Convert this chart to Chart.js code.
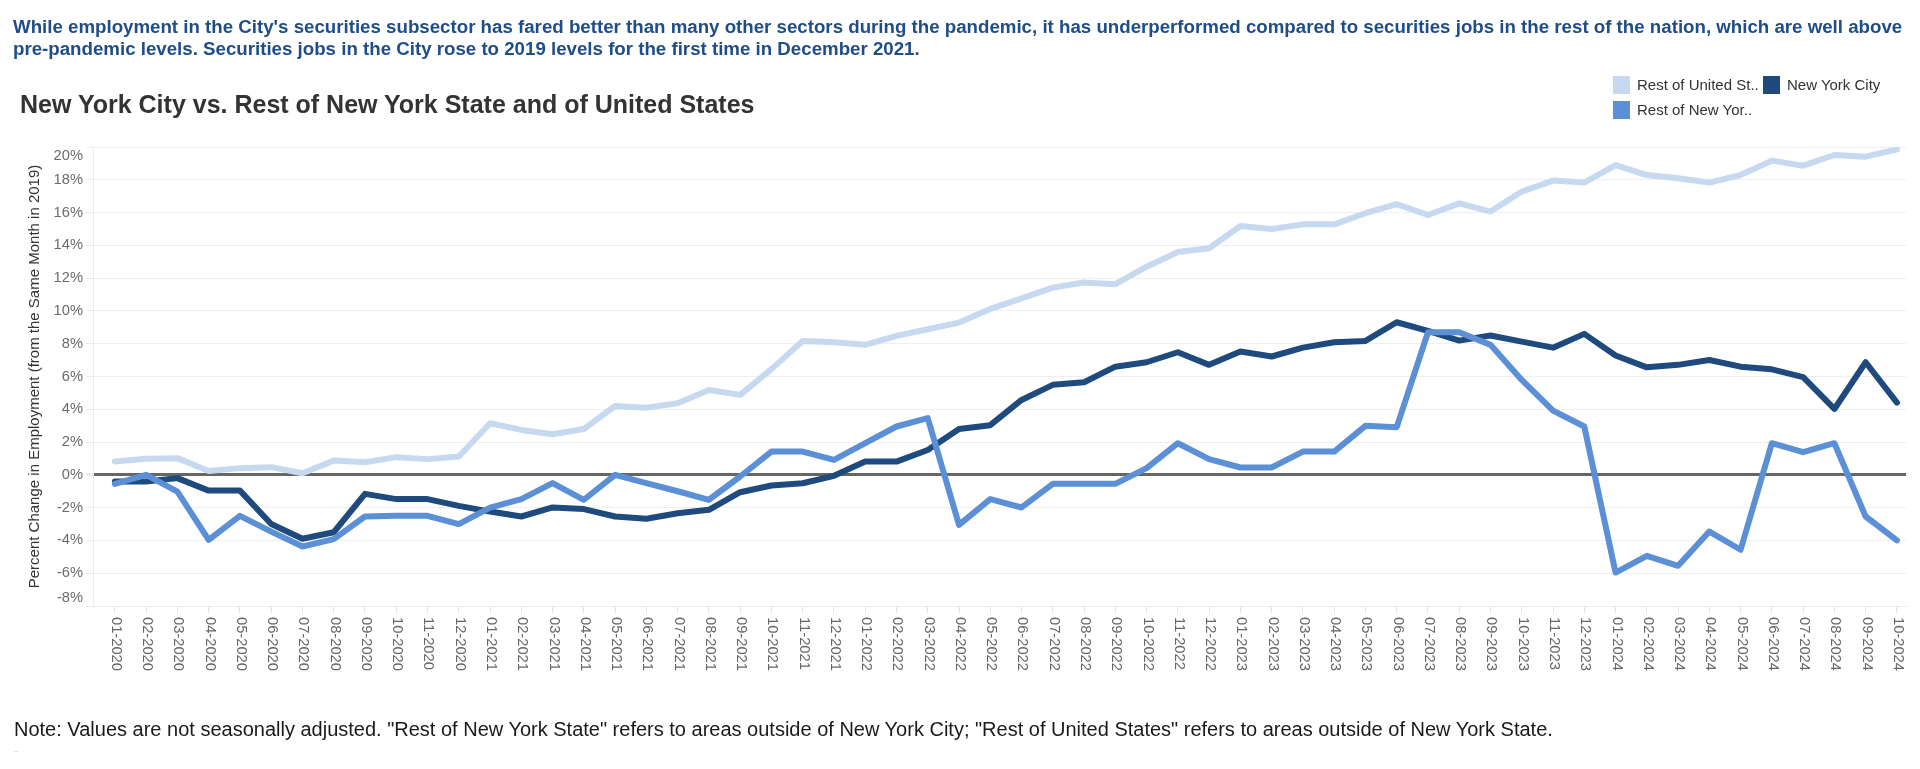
<!DOCTYPE html>
<html>
<head>
<meta charset="utf-8">
<script src="https://cdn.jsdelivr.net/npm/chart.js@4.4.1/dist/chart.umd.min.js"></script>
<style>
  html, body { margin: 0; padding: 0; background: #fff; }
  body { width: 1920px; height: 769px; position: relative; overflow: hidden; font-family: "Liberation Sans", Arial, sans-serif; }
  .abs { position: absolute; white-space: nowrap; }
  #subtitle { left: 13px; top: 16px; font-size: 18.7px; line-height: 21.7px; font-weight: bold; color: #1f4d87; }
  #title { left: 20px; top: 92px; font-size: 25px; line-height: 25px; font-weight: bold; color: #333; }
  #note { left: 14px; top: 719px; font-size: 20px; line-height: 20px; color: #1a1a1a; }
  #dots { left: 14px; top: 746px; font-size: 7px; line-height: 7px; color: #888; }
  #chartWrap { position: absolute; left: 0; top: 0; width: 1920px; height: 769px; }
  .lg-sw { position: absolute; width: 17px; height: 18px; }
  .lg-tx { position: absolute; font-size: 15px; line-height: 15px; color: #333; white-space: nowrap; }
</style>
</head>
<body>
<div id="chartWrap"><canvas id="c"></canvas></div>
<div class="abs" id="subtitle">While employment in the City's securities subsector has fared better than many other sectors during the pandemic, it has underperformed compared to securities jobs in the rest of the nation, which are well above<br>pre-pandemic levels. Securities jobs in the City rose to 2019 levels for the first time in December 2021.</div>
<div class="abs" id="title">New York City vs. Rest of New York State and of United States</div>
<div class="abs" id="note">Note: Values are not seasonally adjusted. "Rest of New York State" refers to areas outside of New York City; "Rest of United States" refers to areas outside of New York State.</div>
<div class="abs" id="dots">..</div>
<div id="legend"></div>
<script>
const months = [
  "01-2020","02-2020","03-2020","04-2020","05-2020","06-2020","07-2020","08-2020","09-2020","10-2020","11-2020","12-2020",
  "01-2021","02-2021","03-2021","04-2021","05-2021","06-2021","07-2021","08-2021","09-2021","10-2021","11-2021","12-2021",
  "01-2022","02-2022","03-2022","04-2022","05-2022","06-2022","07-2022","08-2022","09-2022","10-2022","11-2022","12-2022",
  "01-2023","02-2023","03-2023","04-2023","05-2023","06-2023","07-2023","08-2023","09-2023","10-2023","11-2023","12-2023",
  "01-2024","02-2024","03-2024","04-2024","05-2024","06-2024","07-2024","08-2024","09-2024","10-2024"
];

const restOfUS = [
  0.81,0.98,1.02,0.24,0.41,0.47,0.10,0.87,0.77,1.08,0.96,1.12,
  3.15,2.74,2.48,2.80,4.20,4.10,4.37,5.18,4.88,6.45,8.17,8.09,
  7.93,8.48,8.88,9.29,10.12,10.77,11.42,11.73,11.63,12.70,13.60,13.82,
  15.18,15.00,15.28,15.28,15.96,16.52,15.85,16.56,16.06,17.28,17.95,17.83,
  18.90,18.29,18.09,17.83,18.29,19.17,18.86,19.51,19.41,19.86
];

const newYorkCity = [
  -0.41,-0.41,-0.20,-0.96,-0.96,-3.00,-3.90,-3.50,-1.16,-1.48,-1.48,-1.89,
  -2.24,-2.54,-1.99,-2.09,-2.54,-2.68,-2.34,-2.13,-1.06,-0.65,-0.51,-0.06,
  0.81,0.81,1.52,2.80,3.03,4.57,5.49,5.65,6.60,6.87,7.48,6.71,
  7.52,7.22,7.76,8.09,8.17,9.31,8.78,8.19,8.50,8.13,7.76,8.60,
  7.28,6.56,6.71,7.01,6.60,6.44,5.96,4.02,6.87,4.41
];

const restOfNYS = [
  -0.55,0.00,-1.02,-3.96,-2.50,-3.46,-4.37,-3.92,-2.54,-2.50,-2.50,-3.00,
  -2.00,-1.48,-0.50,-1.52,0.00,-0.50,-1.00,-1.52,-0.10,1.42,1.42,0.91,
  1.93,2.95,3.46,-3.05,-1.48,-1.99,-0.55,-0.55,-0.55,0.41,1.93,0.96,
  0.45,0.45,1.42,1.42,2.99,2.91,8.70,8.70,7.93,5.79,3.92,2.95,
  -5.96,-4.94,-5.55,-3.46,-4.57,1.93,1.38,1.93,-2.54,-4.00
];

const seriesNames = ["Rest of United States", "New York City", "Rest of New York State"];
const legendLabels = ["Rest of United St..", "New York City", "Rest of New Yor.."];
const yTicks = [-8,-6,-4,-2,0,2,4,6,8,10,12,14,16,18,20];

const colors = ["#c6d9f1", "#1f4a7e", "#5b8fd6"];

// legend (HTML)
const legendPos = [
  {sx: 1613, sy: 76, tx: 1637, ty: 77},
  {sx: 1763, sy: 76, tx: 1787, ty: 77},
  {sx: 1613, sy: 101, tx: 1637, ty: 102}
];
const lg = document.getElementById('legend');
legendLabels.forEach((t, i) => {
  const sw = document.createElement('div');
  sw.className = 'lg-sw';
  sw.style.left = legendPos[i].sx + 'px';
  sw.style.top = legendPos[i].sy + 'px';
  sw.style.background = colors[i];
  lg.appendChild(sw);
  const tx = document.createElement('div');
  tx.className = 'lg-tx';
  tx.style.left = legendPos[i].tx + 'px';
  tx.style.top = legendPos[i].ty + 'px';
  tx.textContent = t;
  lg.appendChild(tx);
});

const toXY = arr => arr.map((v, i) => ({x: i, y: v}));
const yMin = yTicks[0], yMax = yTicks[yTicks.length - 1];
const tickFont = '14.7px "Liberation Sans", Arial, sans-serif';

const axisLabelPlugin = {
  id: 'axisLabels',
  afterDraw(chart) {
    const ctx = chart.ctx;
    // x labels, rotated clockwise (read top to bottom)
    const sx = chart.scales.x;
    ctx.save();
    ctx.font = tickFont;
    ctx.fillStyle = '#666666';
    ctx.textAlign = 'left';
    ctx.textBaseline = 'middle';
    months.forEach((lab, i) => {
      const x = sx.getPixelForValue(i);
      ctx.save();
      ctx.translate(x + 1, sx.top + 11);
      ctx.rotate(Math.PI / 2);
      ctx.fillText(lab, 0, 0);
      ctx.restore();
    });
    // end y labels kept inside the axis range
    const sy = chart.scales.y;
    ctx.fillStyle = '#6b6b6b';
    ctx.textAlign = 'right';
    ctx.fillText(yMax + '%', sy.right - 10, sy.getPixelForValue(yMax) + 9);
    ctx.fillText(yMin + '%', sy.right - 10, sy.getPixelForValue(yMin) - 8);
    ctx.restore();
  }
};

Chart.defaults.font.family = '"Liberation Sans", Arial, sans-serif';

new Chart(document.getElementById('c'), {
  type: 'line',
  data: {
    datasets: [
      { label: seriesNames[2], data: toXY(restOfNYS), borderColor: colors[2], order: 0 },
      { label: seriesNames[1], data: toXY(newYorkCity), borderColor: colors[1], order: 1 },
      { label: seriesNames[0], data: toXY(restOfUS), borderColor: colors[0], order: 2 }
    ]
  },
  options: {
    responsive: true,
    maintainAspectRatio: false,
    animation: false,
    devicePixelRatio: 1,
    elements: {
      line: { borderWidth: 6, tension: 0, borderCapStyle: 'round', borderJoinStyle: 'round', fill: false },
      point: { radius: 0, hoverRadius: 0 }
    },
    layout: { padding: { top: 147, right: 14, left: 0, bottom: 0 } },
    plugins: { legend: { display: false }, tooltip: { enabled: false } },
    scales: {
      x: {
        type: 'linear',
        min: -0.7,
        max: 57.29,
        afterBuildTicks: (axis) => { axis.ticks = months.map((m, i) => ({ value: i })); },
        afterFit: (axis) => { axis.height = 163; },
        ticks: { display: false },
        grid: { display: true, drawOnChartArea: false, drawTicks: true, tickLength: 7, tickColor: '#e4e4e4', tickWidth: 1 },
        border: { display: true, color: '#ebebeb', width: 1 }
      },
      y: {
        min: yMin,
        max: yMax,
        afterBuildTicks: (axis) => { axis.ticks = yTicks.map(v => ({ value: v })); },
        afterFit: (axis) => { axis.width = 93; },
        ticks: {
          padding: 3,
          color: '#6b6b6b',
          font: { size: 14.7 },
          callback: (v) => (v === yMax || v === yMin) ? '' : v + '%'
        },
        grid: {
          color: (c) => c.tick && c.tick.value === 0 ? '#666666' : '#efefef',
          lineWidth: (c) => c.tick && c.tick.value === 0 ? 3 : 1,
          tickColor: '#ececec',
          tickLength: 7,
          drawTicks: true
        },
        border: { display: true, color: '#ececec', width: 1 },
        title: {
          display: true,
          text: 'Percent Change in Employment (from the Same Month in 2019)',
          color: '#333333',
          font: { size: 15 },
          padding: { top: 25.5, bottom: 0 }
        }
      }
    }
  },
  plugins: [axisLabelPlugin]
});
</script>
</body>
</html>
